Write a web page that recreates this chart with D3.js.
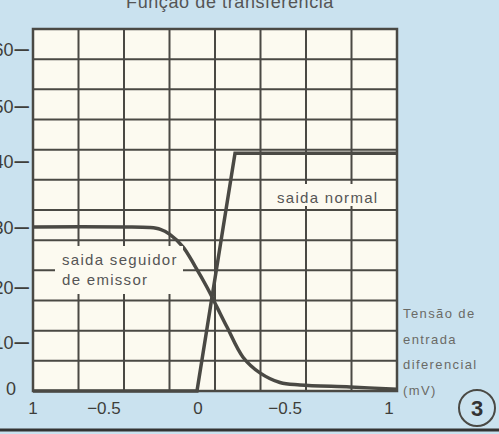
<!DOCTYPE html>
<html>
<head>
<meta charset="utf-8">
<script src="https://cdn.jsdelivr.net/npm/d3@7"></script>
<style>
  body { margin: 0; background: #cae2ef; }
  svg { display: block; }
</style>
</head>
<body>
<div id="chart"></div>
<script>
var width = 499,
    height = 434,
    margin = {top: 29, bottom: 43, left: 33, right: 102};

// input voltage (mV) vs output
var xGrid = d3.range(-1, 1.001, 0.25),
    yGrid = d3.range(0, 60.001, 5);

// tick labels as printed, with where they sit on the axis
var xTickLabels = ["1", "\u22120.5", "0", "\u22120.5", "1"],
    xTickAt = [-1, -0.61, -0.093, 0.385, 0.956];
var yTickLabels = ["0", "10", "20", "30", "40", "50", "60"],
    yTickAt = [0.4, 8, 17, 27, 38, 47, 56.5];

// saida normal
var normalX = [-1, -0.099, 0.11, 1],
    normalY = [0, 0, 39.4, 39.4];

// saida seguidor de emissor
var followerX = [-1, -0.5, -0.36, -0.3, -0.25, -0.176, -0.11, -0.044, 0.011, 0.066, 0.154, 0.247, 0.357, 0.467, 0.742, 1],
    followerY = [27.2, 27.2, 27.1, 26.8, 26.0, 23.9, 20.7, 17.2, 13.9, 10.6, 5.6, 3.0, 1.4, 1.0, 0.66, 0.3];

var ink = "#4a4944",
    paper = "#fcfaf0";

var svg = d3.select("#chart").append("svg")
  .attr("width", width)
  .attr("height", height);

var x = d3.scaleLinear().domain([-1, 1]).range([margin.left, width - margin.right]);
var y = d3.scaleLinear().domain([0, 60]).range([height - margin.bottom, margin.top]);

// plot paper
svg.append("rect")
  .attr("x", x(-1)).attr("y", y(60))
  .attr("width", x(1) - x(-1)).attr("height", y(0) - y(60))
  .attr("fill", paper);

// grid
svg.append("g").selectAll("line")
  .data(xGrid).enter().append("line")
  .attr("x1", d => x(d)).attr("x2", d => x(d))
  .attr("y1", y(0)).attr("y2", y(60))
  .attr("stroke", ink).attr("stroke-width", 2);

svg.append("g").selectAll("line")
  .data(yGrid).enter().append("line")
  .attr("y1", d => y(d)).attr("y2", d => y(d))
  .attr("x1", x(-1)).attr("x2", x(1))
  .attr("stroke", ink).attr("stroke-width", 2);

svg.append("rect")
  .attr("x", x(-1)).attr("y", y(60))
  .attr("width", x(1) - x(-1)).attr("height", y(0) - y(60))
  .attr("fill", "none").attr("stroke", ink).attr("stroke-width", 2.5);

svg.append("path")
  .datum(d3.zip(followerX, followerY))
  .attr("d", d3.line().x(d => x(d[0])).y(d => y(d[1])).curve(d3.curveCatmullRom.alpha(0.5)))
  .attr("fill", "none").attr("stroke", ink).attr("stroke-width", 3.5);

svg.append("path")
  .datum(d3.zip(normalX, normalY))
  .attr("d", d3.line().x(d => x(d[0])).y(d => y(d[1])))
  .attr("fill", "none").attr("stroke", ink).attr("stroke-width", 3.5)
  .attr("stroke-linejoin", "miter");

// curve labels on white patches
function tag(lines, left, top, w, h) {
  svg.append("rect")
    .attr("x", left).attr("y", top)
    .attr("width", w).attr("height", h)
    .attr("fill", paper);
  svg.append("g").selectAll("text")
    .data(lines).enter().append("text")
    .attr("x", left + 7)
    .attr("y", (d, i) => top + 19 + i * 20)
    .style("font", "15px 'Liberation Sans', Arial, sans-serif")
    .style("letter-spacing", "1.3px")
    .attr("fill", "#555")
    .text(d => d);
}
tag(["saida normal"], 270, 184, 122, 22);
tag(["saida seguidor", "de emissor"], 55, 246, 128, 48);

// axis labels
svg.append("g").selectAll("text")
  .data(xTickLabels).enter().append("text")
  .attr("x", (d, i) => x(xTickAt[i]))
  .attr("y", 414)
  .attr("text-anchor", "middle")
  .style("font", "17px 'Liberation Sans', Arial, sans-serif")
  .attr("fill", "#3e3e3a")
  .text(d => d);

// y labels: the printed dash after each number, left digit runs off the page
var yLab = svg.append("g").selectAll("text")
  .data(yTickLabels).enter().append("text")
  .attr("x", (d, i) => i == 0 ? 16 : 29)
  .attr("y", (d, i) => y(yTickAt[i]) + 6)
  .attr("text-anchor", "end")
  .style("font", "18px 'Liberation Sans', Arial, sans-serif")
  .attr("fill", "#3e3e3a");
yLab.append("tspan").text(d => d);
yLab.filter((d, i) => i > 0).append("tspan")
  .attr("dx", 1)
  .attr("dy", 1)
  .style("font-size", "26px")
  .text("\u2013");

// title, cut by the top edge as in the print
svg.append("text")
  .attr("x", 230).attr("y", 8)
  .attr("text-anchor", "middle")
  .style("font", "18px 'Liberation Sans', Arial, sans-serif")
  .style("letter-spacing", "0.6px")
  .attr("fill", "#555")
  .text("Função de transferência");

// x axis caption
svg.append("g").selectAll("text")
  .data(["Tensão de", "entrada", "diferencial", "(mV)"]).enter().append("text")
  .attr("x", 403)
  .attr("y", (d, i) => 318 + i * 25.7)
  .style("font", "13px 'Liberation Sans', Arial, sans-serif")
  .style("letter-spacing", "1.4px")
  .attr("fill", "#6a6a66")
  .text(d => d);

// figure number
svg.append("circle")
  .attr("cx", 477).attr("cy", 408).attr("r", 18)
  .attr("fill", "none").attr("stroke", ink).attr("stroke-width", 2);
svg.append("text")
  .attr("x", 477).attr("y", 416)
  .attr("text-anchor", "middle")
  .style("font", "bold 22px 'Liberation Sans Narrow', 'Liberation Sans', sans-serif")
  .attr("fill", "#333")
  .text("3");

// rule at the foot
svg.append("line")
  .attr("x1", 0).attr("x2", width)
  .attr("y1", 430).attr("y2", 430)
  .attr("stroke", "#333").attr("stroke-width", 3);
</script>
</body>
</html>
